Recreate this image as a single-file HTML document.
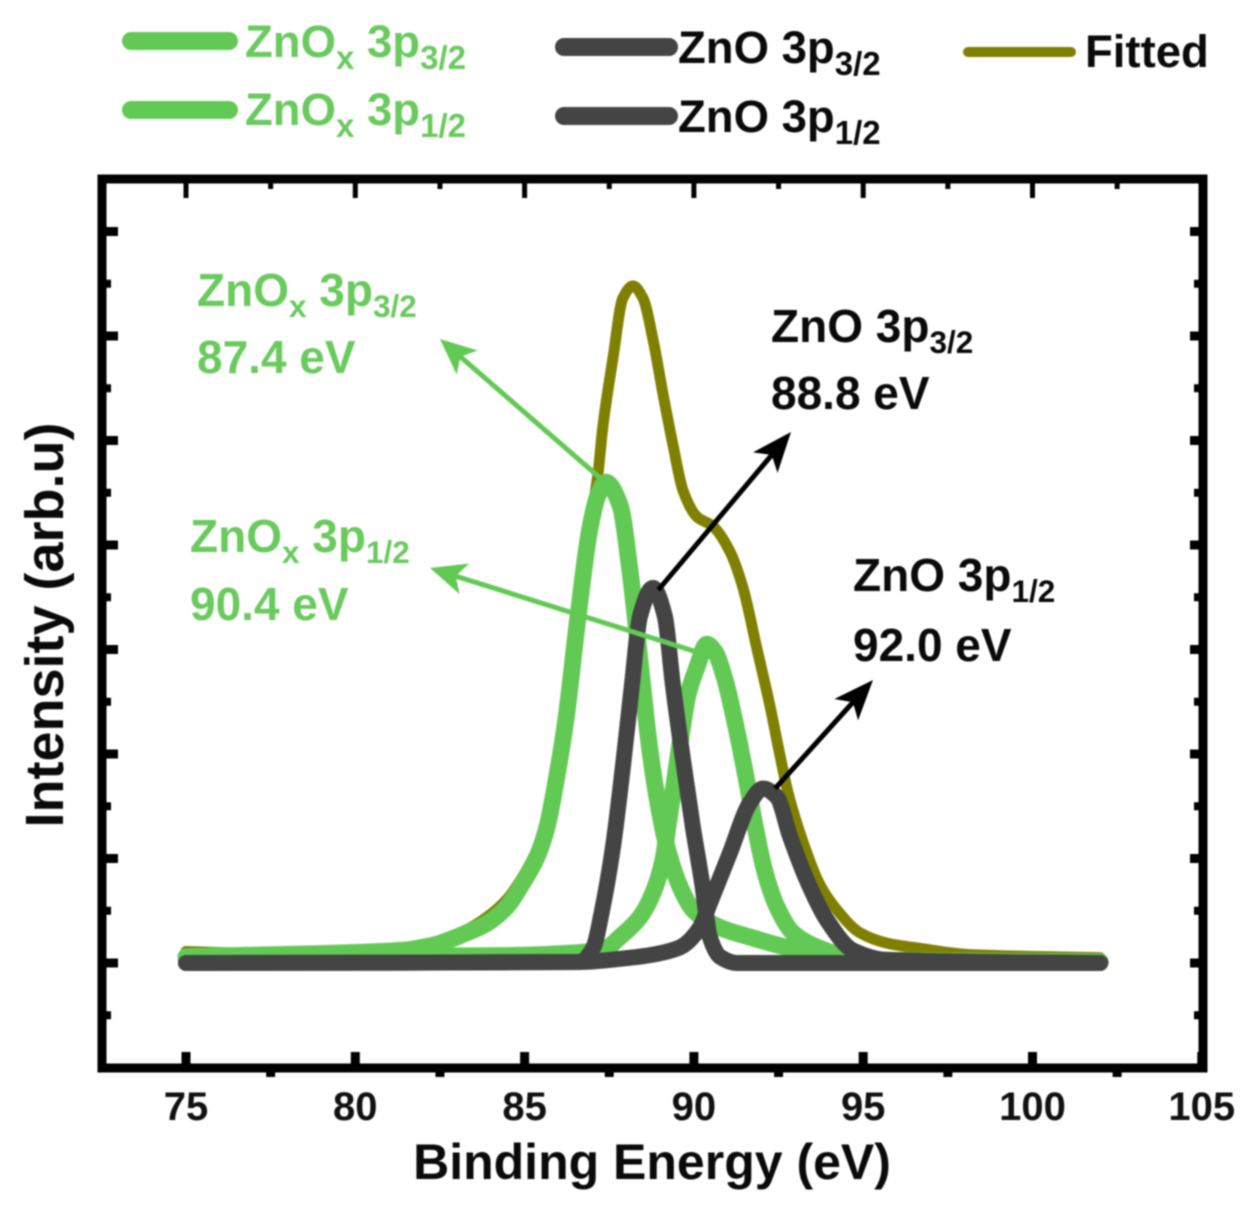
<!DOCTYPE html>
<html lang="en">
<head>
<meta charset="utf-8">
<title>Zn 3p XPS spectrum</title>
<style>
html,body{margin:0;padding:0;background:#fff;width:1251px;height:1207px;overflow:hidden}
svg{display:block;filter:blur(0.9px)}
text{font-family:"Liberation Sans",sans-serif;font-weight:700}
</style>
</head>
<body>
<svg id="chart" xmlns="http://www.w3.org/2000/svg" width="1251" height="1207" viewBox="0 0 1251 1207">
  <rect width="1251" height="1207" fill="#fff"/>
  <g id="series-layer"></g>
  <g id="arrow-layer"></g>
  <g id="axis-layer"></g>

  <g>
    <line x1="131" y1="41" x2="229" y2="41" stroke="#63c955" stroke-width="18" stroke-linecap="round"/>
    <text x="245" y="57" font-size="45.5" fill="#6aca5e">ZnO<tspan font-size="33" dy="12">x</tspan><tspan dy="-12"> 3p</tspan><tspan font-size="33" dy="12">3/2</tspan></text>
    <line x1="131" y1="110" x2="229" y2="110" stroke="#63c955" stroke-width="18" stroke-linecap="round"/>
    <text x="245" y="125" font-size="45.5" fill="#6aca5e">ZnO<tspan font-size="33" dy="12">x</tspan><tspan dy="-12"> 3p</tspan><tspan font-size="33" dy="12">1/2</tspan></text>
    <line x1="564" y1="47" x2="669" y2="47" stroke="#444444" stroke-width="18" stroke-linecap="round"/>
    <text x="678" y="63" font-size="45.5" fill="#0a0a0a">ZnO 3p<tspan font-size="33" dy="12">3/2</tspan></text>
    <line x1="564" y1="116" x2="669" y2="116" stroke="#444444" stroke-width="18" stroke-linecap="round"/>
    <text x="678" y="132" font-size="45.5" fill="#0a0a0a">ZnO 3p<tspan font-size="33" dy="12">1/2</tspan></text>
    <line x1="968" y1="52" x2="1071" y2="52" stroke="#808000" stroke-width="10" stroke-linecap="round"/>
    <text x="1085" y="67" font-size="45.5" fill="#0a0a0a">Fitted</text>
  </g>

  <g>
    <text x="197" y="306" font-size="46" fill="#6aca5e">ZnO<tspan font-size="31.5" dy="11">x</tspan><tspan dy="-11"> 3p</tspan><tspan font-size="31.5" dy="11">3/2</tspan></text>
    <text x="197" y="373" font-size="46" fill="#6aca5e">87.4 eV</text>
    <text x="190" y="552" font-size="46" fill="#6aca5e">ZnO<tspan font-size="31.5" dy="11">x</tspan><tspan dy="-11"> 3p</tspan><tspan font-size="31.5" dy="11">1/2</tspan></text>
    <text x="190" y="620" font-size="46" fill="#6aca5e">90.4 eV</text>
    <text x="771" y="342" font-size="46" fill="#0a0a0a">ZnO 3p<tspan font-size="31.5" dy="11">3/2</tspan></text>
    <text x="771" y="409" font-size="46" fill="#0a0a0a">88.8 eV</text>
    <text x="853" y="591" font-size="46" fill="#0a0a0a">ZnO 3p<tspan font-size="31.5" dy="11">1/2</tspan></text>
    <text x="853" y="661" font-size="46" fill="#0a0a0a">92.0 eV</text>
  </g>

  <text x="652" y="1179" font-size="50" text-anchor="middle" fill="#0a0a0a">Binding Energy (eV)</text>
  <text transform="translate(63 625) rotate(-90)" font-size="54" text-anchor="middle" fill="#0a0a0a">Intensity (arb.u)</text>
</svg>
<script>
// Tick values
const xMajorTicks = [75, 80, 85, 90, 95, 100, 105];
const xMinorTicks = [77.5, 82.5, 87.5, 92.5, 97.5, 102.5];
const yMajorTicks = [0, 1, 2, 3, 4, 5, 6, 7];
const yMinorTicks = [-0.5, 0.5, 1.5, 2.5, 3.5, 4.5, 5.5, 6.5];

// Series values: binding energy (eV) and intensity (arb.u)
const fittedEnergy = [75, 78.37, 81.32, 82.29, 83.3, 83.89, 84.48, 84.95, 85.36, 85.66, 85.96, 86.22, 86.58, 86.93, 87.17, 87.31, 87.61, 87.9, 88.2, 88.5, 88.79, 89.09, 89.38, 89.68, 90.09, 90.56, 91.06, 91.45, 91.86, 92.24, 92.54, 92.78, 93.22, 93.72, 94.22, 94.9, 95.7, 96.67, 98.15, 102];
const fittedIntensity = [0.11, 0.08, 0.13, 0.18, 0.32, 0.44, 0.61, 0.83, 1.08, 1.35, 1.82, 2.35, 3.34, 4.18, 4.69, 5.13, 5.79, 6.36, 6.48, 6.36, 5.97, 5.44, 4.96, 4.52, 4.27, 4.18, 3.94, 3.59, 3.01, 2.47, 1.99, 1.63, 1.16, 0.75, 0.51, 0.29, 0.19, 0.14, 0.08, 0.05];

const znox32Energy = [75, 81.32, 82.29, 83.3, 83.89, 84.48, 84.95, 85.36, 85.66, 85.96, 86.22, 86.58, 86.93, 87.17, 87.4, 87.82, 88.11, 88.41, 88.7, 88.94, 89.23, 89.59, 89.97, 90.77, 91.74, 92.75, 93.72, 94.52, 96.08, 102];
const znox32Intensity = [0.06, 0.12, 0.17, 0.29, 0.38, 0.54, 0.77, 1.01, 1.3, 1.8, 2.33, 3.32, 4.16, 4.48, 4.6, 4.38, 3.76, 2.88, 2.04, 1.53, 1.08, 0.73, 0.51, 0.34, 0.24, 0.15, 0.1, 0.06, 0.02, 0.01];

const znox12Energy = [75, 84.27, 86.63, 87.4, 87.82, 88.41, 88.79, 89.09, 89.23, 89.38, 89.65, 89.82, 90.09, 90.38, 90.62, 90.92, 91.21, 91.51, 91.8, 92.1, 92.45, 92.92, 93.72, 94.52, 95.11, 102];
const znox12Intensity = [0.05, 0.07, 0.1, 0.14, 0.25, 0.44, 0.67, 0.99, 1.3, 1.63, 2.23, 2.56, 2.83, 3.05, 2.98, 2.71, 2.31, 1.83, 1.32, 0.87, 0.54, 0.29, 0.14, 0.06, 0.03, 0.01];

const zno32Energy = [75, 86.63, 87.02, 87.31, 87.61, 87.9, 88.17, 88.41, 88.79, 89.14, 89.38, 89.68, 89.97, 90.24, 90.47, 90.77, 91.27, 102];
const zno32Intensity = [0, 0.01, 0.14, 0.54, 1.11, 1.87, 2.66, 3.32, 3.59, 3.32, 2.66, 1.94, 1.3, 0.77, 0.25, 0.06, 0, 0];

const zno12Energy = [75, 86.63, 87.82, 88.79, 89.59, 90.18, 90.47, 91.06, 91.65, 92.04, 92.45, 92.84, 93.34, 93.93, 94.7, 95.7, 102];
const zno12Intensity = [0, 0.01, 0.04, 0.08, 0.15, 0.34, 0.57, 1.05, 1.53, 1.67, 1.59, 1.21, 0.79, 0.41, 0.12, 0.03, 0];

// Axis functions
function xScale(v) { return 186 + (v - 75) * 33.86; }
function yScale(v) { return 963 - v * 104.5; }

const SVG_NS = 'http://www.w3.org/2000/svg';
const seriesLayer = document.getElementById('series-layer');
const arrowLayer = document.getElementById('arrow-layer');
const axisLayer = document.getElementById('axis-layer');

function make(tag, attrs) {
  const el = document.createElementNS(SVG_NS, tag);
  for (const k in attrs) el.setAttribute(k, attrs[k]);
  return el;
}

// Monotone cubic path through the points
function curvePath(xs, ys) {
  const px = xs.map(xScale);
  const py = ys.map(yScale);
  const n = px.length;
  const sec = [];
  for (let i = 0; i < n - 1; i++) sec.push((py[i + 1] - py[i]) / (px[i + 1] - px[i]));
  const m = new Array(n).fill(0);
  m[0] = sec[0];
  m[n - 1] = sec[n - 2];
  for (let i = 1; i < n - 1; i++) {
    if (sec[i - 1] * sec[i] > 0) {
      const h0 = px[i] - px[i - 1];
      const h1 = px[i + 1] - px[i];
      const w1 = 2 * h1 + h0;
      const w2 = h1 + 2 * h0;
      m[i] = (w1 + w2) / (w1 / sec[i - 1] + w2 / sec[i]);
    }
  }
  let d = 'M' + px[0].toFixed(2) + ' ' + py[0].toFixed(2);
  for (let i = 0; i < n - 1; i++) {
    const h = (px[i + 1] - px[i]) / 3;
    d += 'C' + (px[i] + h).toFixed(2) + ' ' + (py[i] + m[i] * h).toFixed(2) + ' ' +
      (px[i + 1] - h).toFixed(2) + ' ' + (py[i + 1] - m[i + 1] * h).toFixed(2) + ' ' +
      px[i + 1].toFixed(2) + ' ' + py[i + 1].toFixed(2);
  }
  return d;
}

function drawSeries(name, xs, ys, color, width) {
  const p = make('path', {
    d: curvePath(xs, ys),
    fill: 'none',
    stroke: color,
    'stroke-width': width,
    'stroke-linecap': 'round',
    'stroke-linejoin': 'round'
  });
  
  
  seriesLayer.appendChild(p);
}

drawSeries('series-fitted', fittedEnergy, fittedIntensity, '#808000', 11);
drawSeries('series-znox-3p32', znox32Energy, znox32Intensity, '#63c955', 17);
drawSeries('series-znox-3p12', znox12Energy, znox12Intensity, '#63c955', 17);
drawSeries('series-zno-3p32', zno32Energy, zno32Intensity, '#444444', 16);
drawSeries('series-zno-3p12', zno12Energy, zno12Intensity, '#444444', 16);

// Annotation arrows, anchored to the peak positions
function drawArrow(name, x1, y1, x2, y2, color, width, headLen, headWide) {
  const dx = x2 - x1;
  const dy = y2 - y1;
  const len = Math.hypot(dx, dy);
  const ux = dx / len;
  const uy = dy / len;
  const bx = x2 - ux * headLen;
  const by = y2 - uy * headLen;
  const nx = bx + ux * headLen * 0.25;
  const ny = by + uy * headLen * 0.25;
  const g = make('g', {});
  
  
  g.appendChild(make('line', { x1: x1, y1: y1, x2: nx, y2: ny, stroke: color, 'stroke-width': width }));
  g.appendChild(make('polygon', {
    points: x2 + ',' + y2 + ' ' + (bx - uy * headWide) + ',' + (by + ux * headWide) + ' ' +
      nx + ',' + ny + ' ' + (bx + uy * headWide) + ',' + (by - ux * headWide),
    fill: color
  }));
  arrowLayer.appendChild(g);
}

drawArrow('arrow-znox-3p32', xScale(87.2), yScale(4.65), 440, 339, '#63c955', 5, 36, 16);
drawArrow('arrow-znox-3p12', xScale(90.05), yScale(2.98), 430, 568, '#63c955', 5, 36, 16);
drawArrow('arrow-zno-3p32', xScale(88.95), yScale(3.57), 791, 432, '#000', 5, 40, 16);
drawArrow('arrow-zno-3p12', xScale(92.4), yScale(1.67), 873, 680, '#000', 5, 40, 16);

// Axes
function addRect(name, x, y, w, h) {
  const r = make('rect', { x: x, y: y, width: w, height: h, fill: '#000' });
  
  
  axisLayer.appendChild(r);
}

const frame = make('rect', { x: 102, y: 179, width: 1101, height: 889, fill: 'none', stroke: '#000', 'stroke-width': 9 });


axisLayer.appendChild(frame);

xMajorTicks.forEach(function (v) {
  const x = xScale(v);
  addRect('x-major-tick-bottom', x - 4.5, 1052, 9, 14);
  addRect('x-major-tick-top', x - 2.5, 182, 5, 16);
  const t = make('text', { x: x, y: 1120, 'font-size': 40, 'text-anchor': 'middle', fill: '#111' });
  
  
  t.textContent = String(v);
  axisLayer.appendChild(t);
});
xMinorTicks.forEach(function (v) {
  const x = xScale(v);
  addRect('x-minor-tick-bottom', x - 4.5, 1070, 9, 7);
  addRect('x-minor-tick-top', x - 2.5, 182, 5, 7);
});
yMajorTicks.forEach(function (v) {
  const y = yScale(v);
  addRect('y-major-tick-left', 104, y - 4.5, 14, 9);
  addRect('y-major-tick-right', 1190, y - 4.5, 10, 9);
});
yMinorTicks.forEach(function (v) {
  const y = yScale(v);
  addRect('y-minor-tick-left', 104, y - 4, 7, 8);
  addRect('y-minor-tick-right', 1194, y - 4, 6, 8);
});
</script>
</body>
</html>
